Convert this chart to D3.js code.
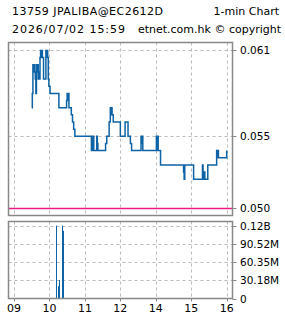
<!DOCTYPE html>
<html>
<head>
<meta charset="utf-8">
<script src="https://cdn.jsdelivr.net/npm/d3@7"></script>
<style>
body { margin: 0; background: #fff; }
text { font-family: "DejaVu Sans", sans-serif; }
</style>
</head>
<body>
<div class="board"></div>
<script>
var W = 285, H = 318

// header
TITLE = "13759 JPALIBA@EC2612D"
CHART_TYPE = "1-min Chart"
STAMP = "2026/07/02 15:59"
SOURCE = "etnet.com.hk \u00a9 copyright"

// price, one point per change (time -> price)
priceTimes = ["09:30","09:31","09:32","09:33","09:34","09:35","09:36","09:37","09:38","09:39",
    "09:40","09:41","09:42","09:43","09:44","09:45","09:46","09:47","09:48","09:50",
    "09:54","09:55","09:56","09:57","09:58","09:59","10:01","10:16","10:29","10:30",
    "10:31","10:32","10:33","10:37","10:39","10:41","10:43","11:11","11:12","11:13",
    "11:14","11:15","11:20","11:21","11:22","11:35","11:37","11:41","11:43","11:44",
    "11:45","11:46","11:48","13:00","13:08","13:13","13:17","13:19","13:35","13:36",
    "13:37","13:38","14:01","14:02","14:03","14:04","14:08","14:47","14:48","14:49",
    "15:04","15:19","15:20","15:21","15:22","15:23","15:28","15:43","15:44","15:45",
    "15:46","16:00"]
priceValues = [0.057,0.058,0.060,0.0595,0.060,0.0595,0.059,0.058,0.060,0.0595,
    0.060,0.059,0.0595,0.059,0.0605,0.061,0.0605,0.061,0.0605,0.059,
    0.061,0.0605,0.061,0.0605,0.059,0.0585,0.058,0.057,0.0575,0.058,
    0.0575,0.058,0.057,0.0565,0.056,0.0555,0.055,0.054,0.055,0.054,
    0.055,0.054,0.055,0.0545,0.054,0.0545,0.055,0.056,0.057,0.0565,
    0.057,0.0565,0.056,0.055,0.056,0.055,0.0545,0.054,0.055,0.0545,
    0.055,0.054,0.055,0.054,0.055,0.054,0.053,0.0525,0.052,0.053,
    0.052,0.053,0.0525,0.052,0.0525,0.052,0.053,0.054,0.0535,0.054,
    0.0535,0.054]

REF_PRICE = 0.050
priceTicks = [0.050, 0.055, 0.061]
priceTickLabels = ["0.050", "0.055", "0.061"]

volTimes = ["09:35","10:01","10:12","10:15","10:17","10:22","10:23","13:57","14:29"]
volValues = [1.0e6, 0.8e6, 120.7e6, 20.4e6, 30.4e6, 120.6e6, 112e6, 1.0e6, 1.0e6]
volTicks = [0, 30.18e6, 60.35e6, 90.52e6, 120.7e6]
volTickLabels = ["0", "30.18M", "60.35M", "90.52M", "0.12B"]

timeTicks = ["09:00","10:00","11:00","12:00","14:00","15:00","16:00"]
timeTickLabels = ["09","10","11","12","14","15","16"]

LINE_COLOR = "#0d63a5"
REF_COLOR = "#ec1a80"
FRAME_COLOR = "#888"
GRID_COLOR = "#bbb"

PLOT_LEFT = 8.5
PLOT_RIGHT = 232.5
PRICE_TOP = 42.5
PRICE_BOTTOM = 215.5
VOL_TOP = 221.5
VOL_BOTTOM = 298.5

// minutes into the session, lunch break squeezed out (12:00 == 13:00)
function sessionMinute(t) {
    var p = t.split(":"), m = +p[0] * 60 + +p[1]
    if (m >= 13 * 60) m -= 60
    return m - 9 * 60
}

var svg = d3.select(".board")
    .append("svg")
    .attr("width", W)
    .attr("height", H)

svg.append("rect").attr("width", W).attr("height", H).attr("fill", "#fff")

let xScale = d3.scaleLinear()
    .domain([0, 360])
    .range([14, 226.7])

let yPrice = d3.scaleLinear()
    .domain([0.049465, 0.061556])
    .range([PRICE_BOTTOM, PRICE_TOP])

let yVol = d3.scaleLinear()
    .domain([0, 120.7e6 * 76.6 / 72.6])
    .range([VOL_BOTTOM, VOL_TOP])

// header text (source font has wide digits, so stretch the two digit-heavy lines)
svg.append("text").attr("x", 12).attr("y", 15).attr("font-size", 11)
    .attr("textLength", 151).attr("lengthAdjust", "spacing").text(TITLE)
svg.append("text").attr("x", 279).attr("y", 15).attr("font-size", 11)
    .attr("text-anchor", "end").text(CHART_TYPE)
svg.append("text").attr("x", 12).attr("y", 33).attr("font-size", 11)
    .attr("textLength", 113).attr("lengthAdjust", "spacing").text(STAMP)
svg.append("text").attr("x", 281).attr("y", 33).attr("font-size", 11)
    .attr("text-anchor", "end").text(SOURCE)

// vertical grid, both panels
let px = d => Math.round(d) + 0.5
;[[PRICE_TOP, PRICE_BOTTOM], [VOL_TOP, VOL_BOTTOM]].forEach(r => {
    svg.selectAll(null)
        .data(timeTicks)
        .enter()
        .append("line")
        .attr("x1", d => px(xScale(sessionMinute(d))))
        .attr("x2", d => px(xScale(sessionMinute(d))))
        .attr("y1", r[0])
        .attr("y2", r[1])
        .attr("stroke", GRID_COLOR)
        .attr("stroke-dasharray", "3,3")
})

// horizontal grid
svg.selectAll(".pgrid")
    .data(priceTicks.filter(d => d != REF_PRICE))
    .enter()
    .append("line")
    .attr("x1", PLOT_LEFT).attr("x2", PLOT_RIGHT)
    .attr("y1", d => px(yPrice(d))).attr("y2", d => px(yPrice(d)))
    .attr("stroke", GRID_COLOR)
    .attr("stroke-dasharray", "3,3")

svg.selectAll(".vgrid")
    .data(volTicks.slice(1))
    .enter()
    .append("line")
    .attr("x1", PLOT_LEFT).attr("x2", PLOT_RIGHT)
    .attr("y1", d => px(yVol(d))).attr("y2", d => px(yVol(d)))
    .attr("stroke", GRID_COLOR)
    .attr("stroke-dasharray", "3,3")

// reference line
svg.append("line")
    .attr("x1", PLOT_LEFT).attr("x2", PLOT_RIGHT)
    .attr("y1", px(yPrice(REF_PRICE))).attr("y2", px(yPrice(REF_PRICE)))
    .attr("stroke", REF_COLOR)
    .attr("stroke-width", 1.5)

// price line
let priceData = priceTimes.map((t, i) => [sessionMinute(t), priceValues[i]])
let line = d3.line()
    .x(d => xScale(d[0]))
    .y(d => yPrice(d[1]))
    .curve(d3.curveStepAfter)
svg.append("path")
    .datum(priceData)
    .attr("d", line)
    .attr("fill", "none")
    .attr("stroke", LINE_COLOR)
    .attr("stroke-width", 1.5)

// volume bars
svg.selectAll(".bar")
    .data(volTimes.map((t, i) => [sessionMinute(t), volValues[i]]))
    .enter()
    .append("rect")
    .attr("x", d => Math.floor(xScale(d[0])))
    .attr("width", 1)
    .attr("y", d => yVol(d[1]))
    .attr("height", d => yVol(0) - yVol(d[1]))
    .attr("fill", LINE_COLOR)

// frames
;[[PRICE_TOP, PRICE_BOTTOM], [VOL_TOP, VOL_BOTTOM]].forEach(r => {
    svg.append("rect")
        .attr("x", PLOT_LEFT).attr("y", r[0])
        .attr("width", PLOT_RIGHT - PLOT_LEFT).attr("height", r[1] - r[0])
        .attr("fill", "none")
        .attr("stroke", FRAME_COLOR)
        .attr("stroke-width", 1.5)
})

// right axes
function rightAxis(ticks, labels, scale) {
    svg.selectAll(null)
        .data(ticks)
        .enter()
        .append("line")
        .attr("x1", PLOT_RIGHT).attr("x2", PLOT_RIGHT + 4)
        .attr("y1", d => px(scale(d))).attr("y2", d => px(scale(d)))
        .attr("stroke", FRAME_COLOR)
    svg.selectAll(null)
        .data(ticks)
        .enter()
        .append("text")
        .attr("x", 240)
        .attr("y", d => scale(d) + 4)
        .attr("font-size", 10.5)
        .attr("font-family", "Liberation Sans")
        .text((d, i) => labels[i])
}
rightAxis(priceTicks, priceTickLabels, yPrice)
rightAxis(volTicks, volTickLabels, yVol)

// time axis
svg.selectAll(".xtick")
    .data(timeTicks)
    .enter()
    .append("line")
    .attr("x1", d => px(xScale(sessionMinute(d))))
    .attr("x2", d => px(xScale(sessionMinute(d))))
    .attr("y1", VOL_BOTTOM).attr("y2", VOL_BOTTOM + 3)
    .attr("stroke", FRAME_COLOR)

svg.selectAll(".xlabel")
    .data(timeTicks)
    .enter()
    .append("text")
    .attr("x", d => xScale(sessionMinute(d)))
    .attr("y", 311.5)
    .attr("font-size", 11)
    .attr("font-family", "Liberation Sans")
    .attr("text-anchor", "middle")
    .text((d, i) => timeTickLabels[i])
</script>
</body>
</html>
